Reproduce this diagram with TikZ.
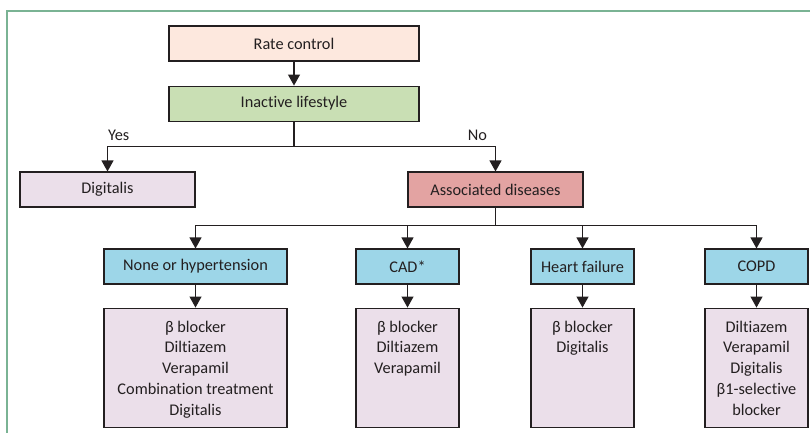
\documentclass[tikz,border=0pt]{standalone}
\usepackage{fontspec}
\setmainfont{Carlito}[Ligatures={NoCommon}]
\usepackage{tikz}
\usetikzlibrary{
    arrows.meta,
    positioning
}
\definecolor{framegreen}{HTML}{7AB394}
\definecolor{ratefill}{HTML}{FDE8DE}
\definecolor{lifefill}{HTML}{C9DFB4}
\definecolor{drugfill}{HTML}{EBDFEA}
\definecolor{assocfill}{HTML}{E3A3A2}
\definecolor{disfill}{HTML}{9DD6E8}
\definecolor{inkgray}{HTML}{231F20}

\begin{document}
\begin{tikzpicture}[
    x=1pt,y=1pt,
    node distance=24pt,
    block/.style={
        rectangle,
        draw=inkgray,
        line width=1.1pt,
        minimum height=35pt,
        inner sep=0pt,
        text=inkgray,
        font=\fontsize{16.3}{20}\selectfont,
        align=center
    },
    wide/.style={block,minimum width=250pt},
    mid/.style={block,minimum width=175pt},
    small/.style={block,minimum width=103pt},
    drug/.style={block,minimum height=119pt},
    listtext/.style={inner sep=0pt,align=center,text=inkgray,
        font=\fontsize{16.3}{20.8}\selectfont},
    answer/.style={inner sep=0pt,text=inkgray,font=\fontsize{16.3}{18}\selectfont},
    arrow/.style={-{Triangle[width=12pt,length=11pt]},line width=1.1pt,draw=inkgray}
]
    \useasboundingbox (0,0) rectangle (810,-433);
    \draw[framegreen,line width=1.5pt] (810,-11) -- (7,-11) -- (7,-433);

    % Nodes
    \node[wide,fill=ratefill] (rate) at (294,-43.5) {Rate control};
    \node[wide,fill=lifefill,below=of rate] (inactive) {Inactive lifestyle};
    \node[mid,fill=drugfill] (digi) at (107.5,-189.5) {Digitalis};
    \node[mid,fill=assocfill] (assoc) at (495.5,-189.5) {Associated diseases};

    \node[small,fill=disfill,minimum width=183pt] (none) at (195.5,-266.5) {None or hypertension};
    \node[small,fill=disfill] (cad) at (407.5,-266.5) {CAD*};
    \node[small,fill=disfill] (hf) at (582.5,-266.5) {Heart failure};
    \node[small,fill=disfill] (copd) at (756.5,-266.5) {COPD};

    \node[drug,fill=drugfill,minimum width=183pt,below=23pt of none] (none-drug) {};
    \node[drug,fill=drugfill,minimum width=103pt,below=23pt of cad] (cad-drug) {};
    \node[drug,fill=drugfill,minimum width=103pt,below=23pt of hf] (hf-drug) {};
    \node[drug,fill=drugfill,minimum width=103pt,below=23pt of copd] (copd-drug) {};

    \node[listtext,below=13pt of none-drug.north] (none-list)
        {β blocker\\Diltiazem\\Verapamil\\Combination treatment\\Digitalis};
    \node[listtext,below=13pt of cad-drug.north] (cad-list)
        {β blocker\\Diltiazem\\Verapamil};
    \node[listtext,below=13pt of hf-drug.north] (hf-list)
        {β blocker\\Digitalis};
    \node[listtext,below=13pt of copd-drug.north] (copd-list)
        {Diltiazem\\Verapamil\\Digitalis\\β1-selective\\blocker};

    % Arrows
    \draw[arrow] (rate) -- (inactive);
    \draw[line width=1.1pt,draw=inkgray] (inactive.south) -- ++(0,-25) coordinate (split);
    \draw[arrow] (split) -| node[answer,pos=0.5,anchor=south west,yshift=5pt] (yes) {Yes} (digi.north);
    \draw[arrow] (split) -| node[answer,pos=0.5,anchor=south east,xshift=-8pt,yshift=5pt] (no) {No} (assoc.north);

    \draw[line width=1.1pt,draw=inkgray] (assoc.south) -- ++(0,-18) coordinate (fork);
    \foreach \d in {none,cad,hf,copd}
        \draw[arrow] (fork) -| (\d.north);
    \foreach \d in {none,cad,hf,copd}
        \draw[arrow] (\d) -- (\d-drug);
\end{tikzpicture}
\end{document}
